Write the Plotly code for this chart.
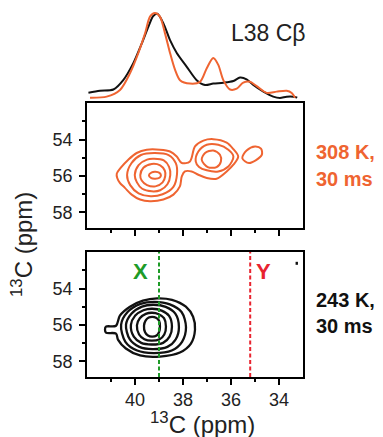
import plotly.graph_objects as go

# ---------------- 1D projections (ppm, normalised intensity) ----------------
proj_ppm_black = [41.94, 41.46, 40.90, 40.49, 40.07, 39.72, 39.44, 39.24, 39.07, 38.82, 38.54, 38.26,
                  37.85, 37.43, 37.08, 36.74, 36.32, 35.90, 35.625, 35.35, 35.07, 34.65, 34.24, 33.96,
                  33.68, 33.40, 33.24]
proj_int_black = [0.063, 0.086, 0.10, 0.21, 0.41, 0.64, 0.84, 0.965, 0.99, 0.88, 0.68, 0.53,
                  0.37, 0.21, 0.153, 0.17, 0.18, 0.20, 0.24, 0.22, 0.153, 0.075, 0.016, 0.0,
                  0.016, 0.016, 0.004]
proj_ppm_orange = [41.875, 41.18, 40.625, 40.21, 39.86, 39.58, 39.375, 39.17, 38.96, 38.75, 38.54,
                   38.33, 38.125, 37.71, 37.29, 37.01, 36.74, 36.53, 36.32, 36.04, 35.76, 35.49,
                   35.21, 34.93, 34.51, 34.10, 33.68, 33.47, 33.33]
proj_int_orange = [0.004, 0.016, 0.094, 0.29, 0.53, 0.76, 0.957, 1.0, 0.957, 0.76, 0.53,
                   0.33, 0.21, 0.17, 0.19, 0.35, 0.47, 0.39, 0.21, 0.10, 0.11, 0.18,
                   0.19, 0.14, 0.06, 0.075, 0.086, 0.06, 0.004]

# ---------------- 308 K contour lines (x ppm, y ppm) ----------------
hot_outer_x = [40.76, 40.60, 40.28, 39.93, 39.51, 38.96, 38.54, 38.26, 38.05, 37.71, 37.50, 37.15,
               36.74, 36.18, 35.90, 35.70, 35.90, 36.18, 36.60, 37.01, 37.36, 37.64, 37.92, 38.05,
               38.13, 38.40, 38.82, 39.38, 39.79, 40.14, 40.42, 40.63, 40.74]
hot_outer_y = [55.87, 55.56, 55.11, 54.74, 54.56, 54.56, 54.66, 54.93, 55.29, 55.20, 54.38, 54.06,
               53.98, 54.17, 54.53, 54.93, 55.38, 55.75, 56.15, 56.11, 55.93, 55.75, 55.75, 56.02,
               56.57, 57.02, 57.29, 57.38, 57.29, 57.02, 56.65, 56.38, 56.11]
hot_r3_x = [40.33, 40.15, 39.75, 39.20, 38.60, 38.30, 38.25, 38.40, 38.85, 39.35, 39.85, 40.20]
hot_r3_y = [55.95, 55.30, 54.85, 54.74, 54.85, 55.30, 55.90, 56.60, 57.00, 57.11, 56.95, 56.50]
hot_r2_x = [40.01, 39.85, 39.50, 39.20, 38.80, 38.58, 38.53, 38.65, 38.95, 39.30, 39.70, 39.92]
hot_r2_y = [55.95, 55.40, 55.10, 55.06, 55.15, 55.50, 55.95, 56.45, 56.78, 56.84, 56.70, 56.35]
hot_r1_x = [39.78, 39.65, 39.30, 38.95, 38.76, 38.74, 38.85, 39.15, 39.50, 39.72]
hot_r1_y = [55.95, 55.55, 55.34, 55.42, 55.70, 56.00, 56.35, 56.57, 56.50, 56.25]
hot_r0_x = [39.42, 39.30, 39.15, 38.98, 38.92, 38.98, 39.15, 39.32]
hot_r0_y = [55.96, 55.80, 55.77, 55.83, 55.96, 56.10, 56.15, 56.12]
hot_p2mid_x = [37.47, 37.36, 37.01, 36.53, 36.11, 35.90, 36.11, 36.53, 37.01, 37.33]
hot_p2mid_y = [55.20, 54.66, 54.29, 54.29, 54.56, 54.93, 55.48, 55.75, 55.69, 55.51]
hot_p2in_x = [37.22, 37.08, 36.74, 36.46, 36.42, 36.60, 36.97]
hot_p2in_y = [55.11, 54.74, 54.60, 54.84, 55.20, 55.51, 55.51]
hot_p3_x = [35.53, 35.35, 35.00, 34.75, 34.72, 35.25]
hot_p3_y = [55.02, 54.60, 54.38, 54.50, 54.85, 55.29]

# ---------------- 243 K contour lines ----------------
cold_r5_x = [40.79, 40.63, 40.21, 39.67, 39.08, 38.46, 37.88, 37.58, 37.50, 37.67, 38.13, 38.96,
             39.79, 40.38, 40.71, 40.79, 41.21, 41.25, 41.21]
cold_r5_y = [56.04, 55.49, 55.00, 54.67, 54.54, 54.62, 55.00, 55.55, 56.26, 57.02, 57.51, 57.73,
             57.67, 57.29, 56.80, 56.47, 56.42, 56.26, 56.09]
cold_r4_x = [40.58, 40.31, 39.77, 39.175, 38.55, 38.06, 37.875, 38.04, 38.47, 39.23, 39.91, 40.40]
cold_r4_y = [55.99, 55.29, 54.84, 54.73, 54.87, 55.29, 56.13, 56.92, 57.40, 57.54, 57.40, 56.92]
cold_r3_x = [40.375, 40.15, 39.71, 39.225, 38.72, 38.32, 38.17, 38.30, 38.65, 39.27, 39.82, 40.22]
cold_r3_y = [55.98, 55.38, 54.99, 54.89, 55.01, 55.38, 56.11, 56.78, 57.20, 57.32, 57.20, 56.78]
cold_r2_x = [40.17, 40.00, 39.65, 39.28, 38.89, 38.58, 38.46, 38.56, 38.83, 39.31, 39.74, 40.05]
cold_r2_y = [55.99, 55.50, 55.19, 55.11, 55.21, 55.50, 56.09, 56.64, 56.98, 57.07, 56.98, 56.64]
cold_r1_x = [39.92, 39.80, 39.55, 39.29, 39.01, 38.79, 38.71, 38.78, 38.975, 39.31, 39.61, 39.83]
cold_r1_y = [56.02, 55.63, 55.39, 55.33, 55.41, 55.63, 56.09, 56.52, 56.78, 56.86, 56.78, 56.52]
cold_r0_x = [39.625, 39.56, 39.425, 39.28, 39.125, 39.00, 38.96, 39.00, 39.10, 39.29, 39.46, 39.58]
cold_r0_y = [56.04, 55.76, 55.59, 55.55, 55.60, 55.76, 56.09, 56.40, 56.58, 56.64, 56.58, 56.40]
cold_dot_x = [33.31, 33.21]
cold_dot_y = [52.62, 52.62]

# marker lines and labels
line_x_ppm = 39.0
line_y_ppm = 35.2
x_ticks = [34, 36, 38, 40]
x_minor = [35, 37, 39, 41]
y_ticks = [54, 56, 58]
y_minor = [53, 55, 57]

ORANGE = "#EF6431"
BLACK = "#111111"
GREEN = "#1E9B28"
RED = "#E8232F"
FONT = "Liberation Sans, Arial, sans-serif"

fig = go.Figure()

# projections
fig.add_trace(go.Scatter(x=proj_ppm_black, y=proj_int_black, mode="lines",
                         line=dict(color=BLACK, width=2, shape="spline", smoothing=0.8),
                         xaxis="x", yaxis="y", hoverinfo="skip"))
fig.add_trace(go.Scatter(x=proj_ppm_orange, y=proj_int_orange, mode="lines",
                         line=dict(color=ORANGE, width=2, shape="spline", smoothing=0.8),
                         xaxis="x", yaxis="y", hoverinfo="skip"))


def closed(xs, ys):
    return list(xs) + [xs[0]], list(ys) + [ys[0]]


for cx, cy in [(hot_outer_x, hot_outer_y), (hot_r3_x, hot_r3_y), (hot_r2_x, hot_r2_y),
               (hot_r1_x, hot_r1_y), (hot_r0_x, hot_r0_y), (hot_p2mid_x, hot_p2mid_y),
               (hot_p2in_x, hot_p2in_y), (hot_p3_x, hot_p3_y)]:
    xx, yy = closed(cx, cy)
    fig.add_trace(go.Scatter(x=xx, y=yy, mode="lines",
                             line=dict(color=ORANGE, width=2, shape="spline", smoothing=0.9),
                             xaxis="x2", yaxis="y2", hoverinfo="skip"))

for cx, cy in [(cold_r5_x, cold_r5_y), (cold_r4_x, cold_r4_y), (cold_r3_x, cold_r3_y),
               (cold_r2_x, cold_r2_y), (cold_r1_x, cold_r1_y), (cold_r0_x, cold_r0_y)]:
    xx, yy = closed(cx, cy)
    fig.add_trace(go.Scatter(x=xx, y=yy, mode="lines",
                             line=dict(color=BLACK, width=2.3, shape="spline", smoothing=0.9),
                             xaxis="x3", yaxis="y3", hoverinfo="skip"))
fig.add_trace(go.Scatter(x=cold_dot_x, y=cold_dot_y, mode="lines",
                         line=dict(color=BLACK, width=3), xaxis="x3", yaxis="y3", hoverinfo="skip"))

W, H = 383, 437
xdom = [87 / W, 303 / W]
yr = [58.85, 52.0]

panel_x = dict(domain=xdom, range=[42, 33], showline=True, mirror=True, linecolor="black",
               linewidth=1.6, ticks="outside", tickmode="array", tickvals=x_ticks, ticklen=6,
               tickwidth=1.5, tickcolor="black", showgrid=False, zeroline=False,
               minor=dict(tickmode="array", tickvals=x_minor, ticks="outside", ticklen=3,
                          tickwidth=1.5, tickcolor="black"),
               tickfont=dict(family=FONT, size=18, color="#222"))
panel_y = dict(range=yr, showline=True, mirror=True, linecolor="black", linewidth=1.6,
               ticks="outside", tickmode="array", tickvals=y_ticks, ticklen=6, tickwidth=1.5,
               tickcolor="black", showgrid=False, zeroline=False, ticklabelstandoff=3,
               minor=dict(tickmode="array", tickvals=y_minor, ticks="outside", ticklen=3,
                          tickwidth=1.5, tickcolor="black"),
               tickfont=dict(family=FONT, size=18, color="#222"))

fig.update_layout(
    width=W, height=H, margin=dict(l=0, r=0, t=0, b=0),
    paper_bgcolor="white", plot_bgcolor="white", showlegend=False,
    xaxis=dict(domain=xdom, range=[42, 33], visible=False, anchor="y"),
    yaxis=dict(domain=[1 - 100 / H, 1 - 5 / H], range=[-0.0235, 1.094], visible=False, anchor="x"),
    xaxis2=dict(panel_x, anchor="y2", showticklabels=False),
    yaxis2=dict(panel_y, domain=[1 - 228 / H, 1 - 103 / H], anchor="x2"),
    xaxis3=dict(panel_x, anchor="y3", showticklabels=True),
    yaxis3=dict(panel_y, domain=[1 - 377 / H, 1 - 252 / H], anchor="x3"),
)

fig.add_shape(type="line", xref="x3", yref="y3 domain", x0=line_x_ppm, x1=line_x_ppm, y0=0, y1=1,
              line=dict(color=GREEN, width=2, dash="4px,2.5px"))
fig.add_shape(type="line", xref="x3", yref="y3 domain", x0=line_y_ppm, x1=line_y_ppm, y0=0, y1=1,
              line=dict(color=RED, width=2, dash="4px,2.5px"))

fig.add_annotation(text="<b>X</b>", x=39.79, y=53.09, xref="x3", yref="y3", showarrow=False,
                   font=dict(family=FONT, size=22, color=GREEN))
fig.add_annotation(text="<b>Y</b>", x=34.65, y=53.05, xref="x3", yref="y3", showarrow=False,
                   font=dict(family=FONT, size=22, color=RED))

fig.add_annotation(text="L38 Cβ", x=229 / W, y=1 - 33 / H, xref="paper", yref="paper",
                   xanchor="left", yanchor="middle", showarrow=False,
                   font=dict(family=FONT, size=23, color="#222"))
for txt, py, col in [("308 K,", 152, ORANGE), ("30 ms", 179, ORANGE),
                     ("243 K,", 300, "#111"), ("30 ms", 326, "#111")]:
    fig.add_annotation(text="<b>%s</b>" % txt, x=314 / W, y=1 - py / H, xref="paper",
                       yref="paper", xanchor="left", yanchor="middle", showarrow=False,
                       font=dict(family=FONT, size=20, color=col))

fig.add_annotation(text="<sup>13</sup>C (ppm)", x=202 / W, y=1 - 423 / H, xref="paper",
                   yref="paper", xanchor="center", yanchor="middle", showarrow=False,
                   font=dict(family=FONT, size=24, color="#222"))
fig.add_annotation(text="<sup>13</sup>C (ppm)", x=22 / W, y=1 - 245 / H, xref="paper",
                   yref="paper", xanchor="center", yanchor="middle", showarrow=False,
                   textangle=-90, font=dict(family=FONT, size=24, color="#222"))

fig.write_html("out.html")
